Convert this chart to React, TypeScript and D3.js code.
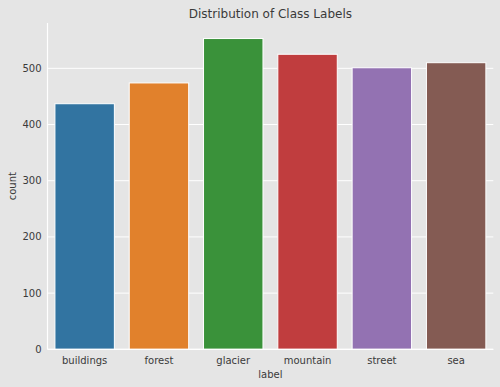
import React from "react";
import * as d3 from "d3";

const categories = ["buildings", "forest", "glacier", "mountain", "street", "sea"];
const counts = [437, 474, 553, 525, 501, 510];
const colors = ["#3274a1", "#e1812c", "#3a923a", "#c03d3e", "#9372b2", "#845b53"];
const yTicks = [0, 100, 200, 300, 400, 500];

const W = 500;
const H = 387;
const left = 47.5;
const right = 493.3;
const top = 23;
const bottom = 349.3;
const font = "DejaVu Sans, sans-serif";
const textColor = "#3a3a3a";

export default function App() {
  const x = d3.scaleBand<string>().domain(categories).range([left, right]).paddingInner(0.2).paddingOuter(0.1);
  const yMax = (d3.max(counts) as number) * 1.05;
  const y = d3.scaleLinear().domain([0, yMax]).range([bottom, top]);

  return (
    <svg width={W} height={H} style={{ position: "absolute", left: 0, top: 0, background: "#e5e5e5" }}>
      <rect x={0} y={0} width={W} height={H} fill="#e5e5e5" />
      {yTicks.map((t) => (
        <g key={t}>
          <line x1={left} x2={right} y1={y(t)} y2={y(t)} stroke="#ffffff" strokeWidth={1} />
          <text x={left - 6} y={y(t)} dy="0.35em" textAnchor="end" fontSize={10} fontFamily={font} fill={textColor}>
            {t}
          </text>
        </g>
      ))}
      {categories.map((c, i) => (
        <rect
          key={c}
          x={x(c)}
          y={y(counts[i])}
          width={x.bandwidth()}
          height={y(0) - y(counts[i])}
          fill={colors[i]}
          stroke="#ffffff"
          strokeWidth={1}
        />
      ))}
      <line x1={left} x2={left} y1={top} y2={bottom} stroke="#ffffff" strokeWidth={1.2} />
      <line x1={left} x2={right} y1={bottom} y2={bottom} stroke="#ffffff" strokeWidth={1.2} />
      {categories.map((c) => (
        <text key={c} x={(x(c) as number) + x.bandwidth() / 2} y={bottom + 14.5} textAnchor="middle" fontSize={10} fontFamily={font} fill={textColor}>
          {c}
        </text>
      ))}
      <text x={(left + right) / 2} y={378} textAnchor="middle" fontSize={10} fontFamily={font} fill={textColor}>
        label
      </text>
      <text transform={`translate(15.5, ${(top + bottom) / 2}) rotate(-90)`} textAnchor="middle" fontSize={10} fontFamily={font} fill={textColor}>
        count
      </text>
      <text x={(left + right) / 2} y={17.5} textAnchor="middle" fontSize={12} fontFamily={font} fill={textColor}>
        Distribution of Class Labels
      </text>
    </svg>
  );
}
